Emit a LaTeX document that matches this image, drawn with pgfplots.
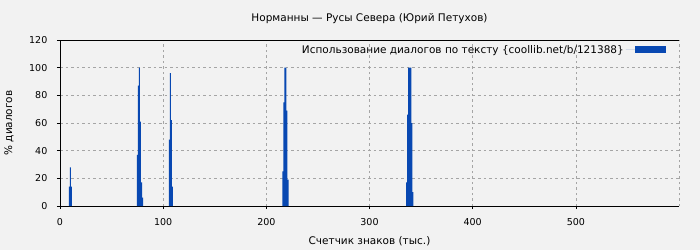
\documentclass[border=0pt]{standalone}
\usepackage{fontspec}
\setmainfont{DejaVu Sans}
\usepackage{pgfplots}
\pgfplotsset{compat=1.18}
\definecolor{bg}{RGB}{242,242,242}
\definecolor{barblue}{RGB}{8,72,178}
\definecolor{gridgray}{RGB}{165,165,165}
\begin{document}
\fontsize{10.5}{12}\selectfont
\begin{tikzpicture}
\fill[bg] (0,0) rectangle (700pt,250pt);
\useasboundingbox (0,0) rectangle (700pt,250pt);
\begin{axis}[
  at={(60pt,44pt)}, anchor=south west,
  scale only axis, width=619pt, height=166pt,
  xmin=0, xmax=600, ymin=0, ymax=120,
  axis x line=box, axis y line=left,
  axis line style={-, black, line width=0.8pt},
  xtick={0,100,...,500}, ytick={0,20,...,120},
  xtick pos=left, ytick pos=left,
  tick align=outside, major tick length=3pt,
  tick style={black, line width=0.6pt},
  grid=major,
  grid style={gridgray, dash pattern=on 2.5pt off 3pt, line width=0.6pt},
  extra x ticks={600}, extra x tick labels={},
  extra x tick style={grid=major, major tick length=0pt},
  /pgf/number format/assume math mode=true,
  ticklabel style={font=\fontsize{9.5}{11}\selectfont},
  yticklabel style={xshift=-6pt},
  xticklabel style={yshift=-6pt},
  title={Норманны — Русы Севера (Юрий Петухов)},
  every axis title/.style={at={(rel axis cs:0.5,1)}, anchor=center, yshift=21pt, font=\fontsize{10.5}{12}\selectfont},
  xlabel={Счетчик знаков (тыс.)},
  every axis x label/.style={at={(rel axis cs:0.5,0)}, anchor=center, yshift=-35pt, font=\fontsize{10.5}{12}\selectfont},
  ylabel={\% диалогов},
  every axis y label/.style={at={(rel axis cs:0,0.5)}, anchor=center, xshift=-51pt, rotate=90, font=\fontsize{10.5}{12}\selectfont},
  legend plot pos=right,
  legend cell align=right,
  legend style={at={(rel axis cs:1,1)}, anchor=north east, xshift=-10pt, yshift=-1pt, draw=none, fill=none, font=\fontsize{10.5}{12}\selectfont},
  ybar, bar width=1,
]
\addplot[fill=barblue, draw=none, legend image code/.code={\path (0pt,0pt) -- (9pt,0pt); \fill[barblue] (9pt,-3.5pt) rectangle (40pt,3.5pt);}] coordinates {
  (9,14) (10,28) (11,14)
  (75,37) (76,87) (77,100) (78,61) (79,17) (80,6)
  (106,48) (107,96) (108,62) (109,14)
  (216,25) (217,75) (218,100) (219,100) (220,69) (221,19)
  (336,17) (337,66) (338,100) (339,100) (340,100) (341,60) (342,10)
};
\addlegendentry{Использование диалогов по тексту \{coollib.net/b/121388\}}
\end{axis}
\end{tikzpicture}
\end{document}
